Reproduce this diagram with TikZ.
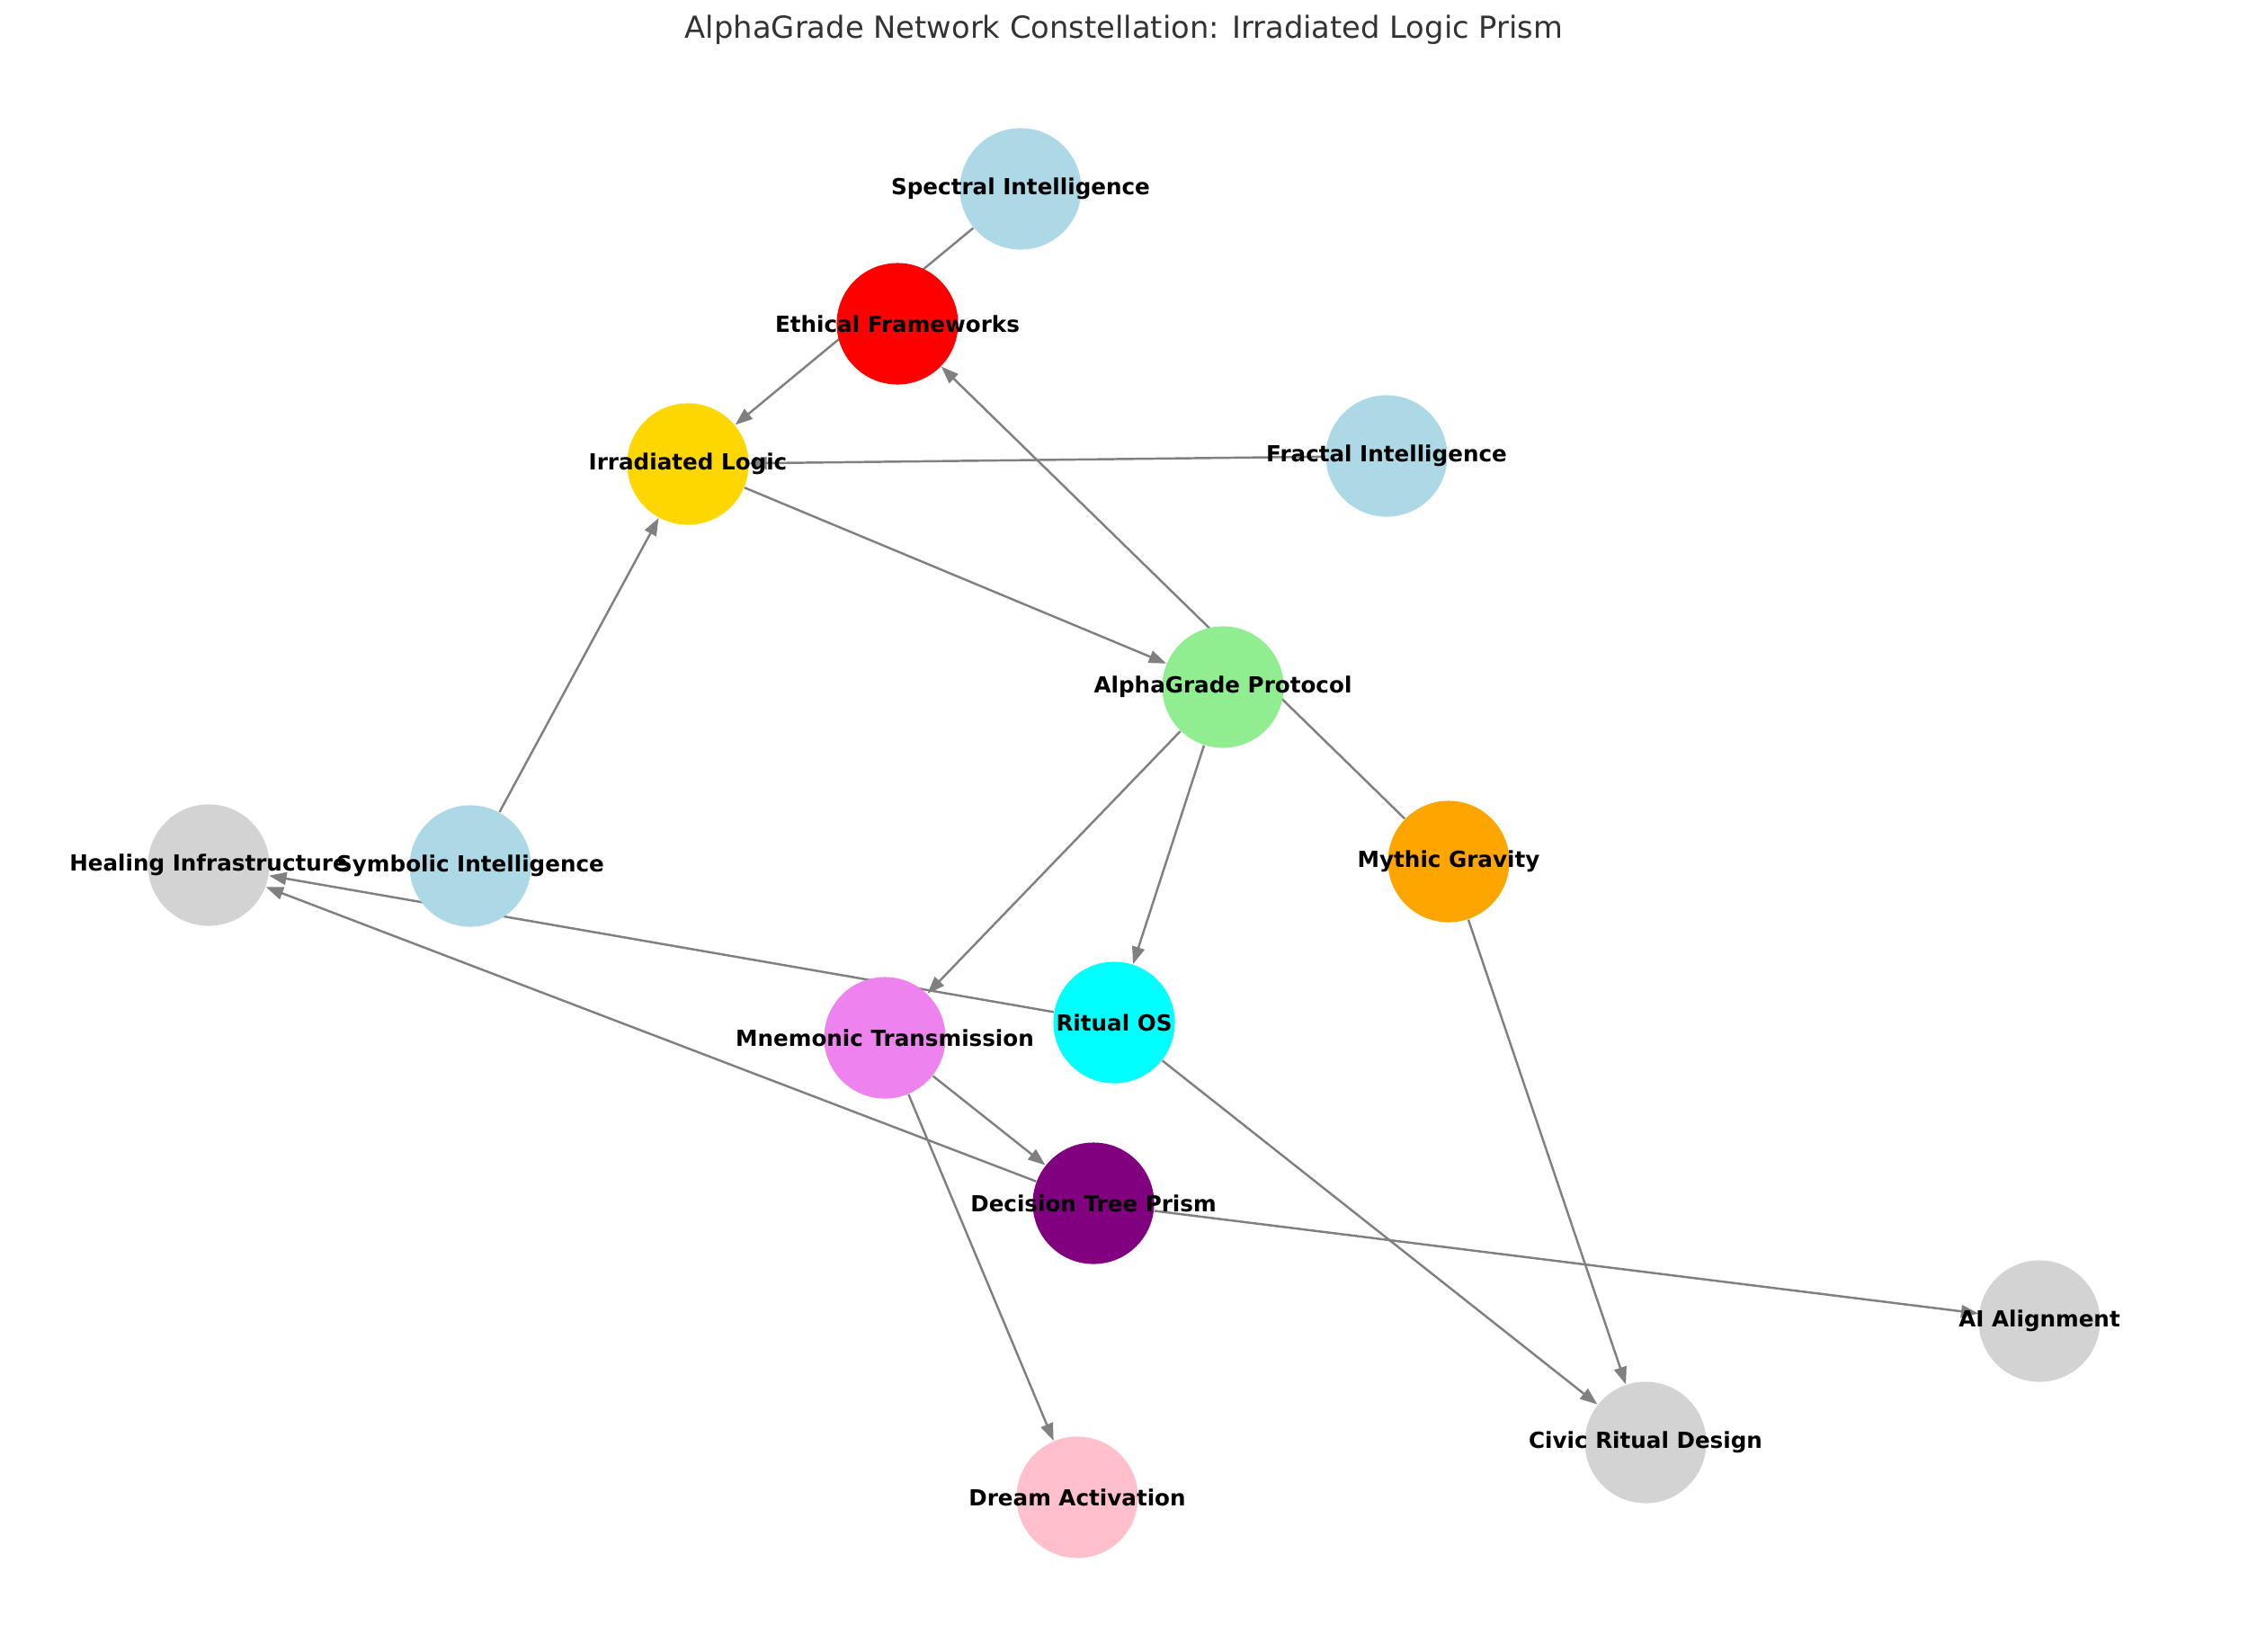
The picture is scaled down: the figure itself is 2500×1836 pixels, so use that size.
\documentclass[tikz,border=0pt]{standalone}
\usepackage{fontspec}
\setmainfont{DejaVu Sans}
\usetikzlibrary{arrows.meta}
\pgfdeclarelayer{bg}
\pgfsetlayers{bg,main}
\definecolor{cLBlue}{HTML}{ADD8E6}
\definecolor{cRed}{HTML}{FF0000}
\definecolor{cGold}{HTML}{FFD700}
\definecolor{cLGreen}{HTML}{90EE90}
\definecolor{cOrange}{HTML}{FFA500}
\definecolor{cCyan}{HTML}{00FFFF}
\definecolor{cViolet}{HTML}{EE82EE}
\definecolor{cPurple}{HTML}{800080}
\definecolor{cLGray}{HTML}{D3D3D3}
\definecolor{cPink}{HTML}{FFC0CB}
\definecolor{cEdge}{HTML}{808080}
\begin{document}
\begin{tikzpicture}[x=0.01cm,y=-0.01cm,
  nd/.style={circle,minimum size=1.35cm,inner sep=0pt,draw=none},
  lbl/.style={font=\fontsize{7}{8}\selectfont\bfseries,inner sep=0pt,text=black},
  edge/.style={draw=cEdge,line width=0.7pt,-{Triangle[length=5.5pt,width=4pt]}}]
\useasboundingbox (0,0) rectangle (2500,1836);
\node[font=\fontsize{9.6}{11}\selectfont,text=black!80] (title) at (1250,33) {AlphaGrade Network Constellation: Irradiated Logic Prism};
\node[nd,fill=cLBlue] (spec) at (1135,210) {};
\node[nd,fill=cRed] (eth) at (998,360) {};
\node[nd,fill=cGold] (irr) at (765,516) {};
\node[nd,fill=cLBlue] (frac) at (1542,507) {};
\node[nd,fill=cLGreen] (alpha) at (1360,764) {};
\node[nd,fill=cLBlue] (sym) at (523,963) {};
\node[nd,fill=cLGray] (heal) at (232,962) {};
\node[nd,fill=cOrange] (myth) at (1611,958) {};
\node[nd,fill=cViolet] (mnem) at (984,1154) {};
\node[nd,fill=cCyan] (rit) at (1239,1137) {};
\node[nd,fill=cPurple] (dec) at (1216,1338) {};
\node[nd,fill=cLGray] (ai) at (2268,1469) {};
\node[nd,fill=cLGray] (civ) at (1830,1604) {};
\node[nd,fill=cPink] (dream) at (1198,1665) {};
\begin{pgfonlayer}{bg}
\draw[edge] (spec) -- (irr);
\draw[edge] (frac) -- (irr);
\draw[edge] (irr) -- (alpha);
\draw[edge] (myth) -- (eth);
\draw[edge] (sym) -- (irr);
\draw[edge] (alpha) -- (mnem);
\draw[edge] (alpha) -- (rit);
\draw[edge] (myth) -- (civ);
\draw[edge] (rit) -- (heal);
\draw[edge] (rit) -- (civ);
\draw[edge] (mnem) -- (dec);
\draw[edge] (mnem) -- (dream);
\draw[edge] (dec) -- (heal);
\draw[edge] (dec) -- (ai);
\end{pgfonlayer}
\node[lbl] (spec-l) at (spec) {Spectral Intelligence};
\node[lbl] (eth-l) at (eth) {Ethical Frameworks};
\node[lbl] (irr-l) at (irr) {Irradiated Logic};
\node[lbl] (frac-l) at (frac) {Fractal Intelligence};
\node[lbl] (alpha-l) at (alpha) {AlphaGrade Protocol};
\node[lbl] (sym-l) at (sym) {Symbolic Intelligence};
\node[lbl] (heal-l) at (heal) {Healing Infrastructure};
\node[lbl] (myth-l) at (myth) {Mythic Gravity};
\node[lbl] (mnem-l) at (mnem) {Mnemonic Transmission};
\node[lbl] (rit-l) at (rit) {Ritual OS};
\node[lbl] (dec-l) at (dec) {Decision Tree Prism};
\node[lbl] (ai-l) at (ai) {AI Alignment};
\node[lbl] (civ-l) at (civ) {Civic Ritual Design};
\node[lbl] (dream-l) at (dream) {Dream Activation};
\end{tikzpicture}
\end{document}
